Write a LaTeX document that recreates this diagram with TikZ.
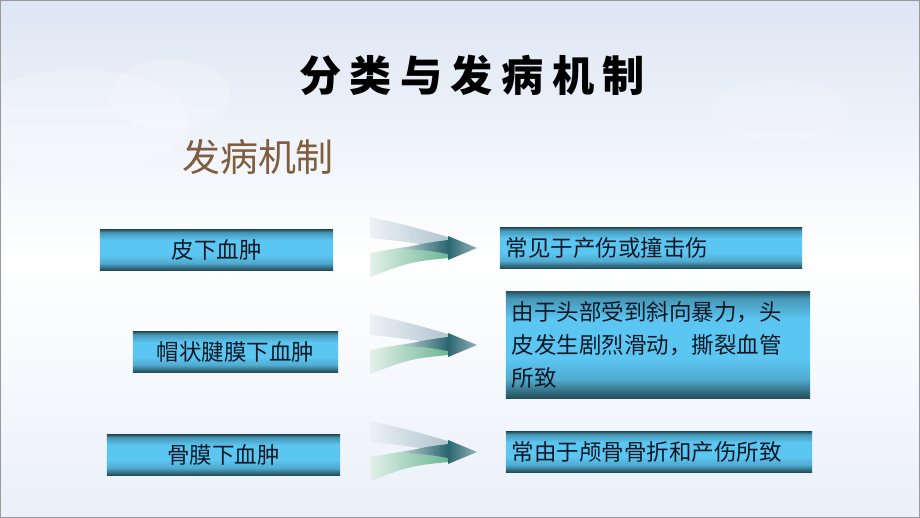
\documentclass[tikz,border=0pt]{standalone}
\usepackage{fontspec}
\setmainfont{Noto Sans CJK SC}
\newfontfamily\titlefont[LetterSpace=20]{Noto Sans CJK SC}
\definecolor{boxdark}{HTML}{2B5C6C}
\definecolor{boxlight}{HTML}{5CC6F2}
\definecolor{boxtext}{HTML}{0C1824}
\definecolor{subbrown}{HTML}{7E5E3E}
\definecolor{skyblue}{HTML}{DDE6F4}
\definecolor{fanblue}{HTML}{A9BFCC}
\definecolor{fangreen}{HTML}{5DAF86}
\definecolor{fanteal}{HTML}{2A6670}
\pgfdeclareverticalshading{boxshade}{100bp}{color(0bp)=(boxdark!85!black); color(25bp)=(boxdark!85!black);
  color(34bp)=(boxlight!75!boxdark); color(44bp)=(boxlight); color(62bp)=(boxlight);
  color(72bp)=(boxlight!55!boxdark); color(75bp)=(boxdark); color(100bp)=(boxdark)}

\begin{document}
\begin{tikzpicture}[x=0.025cm, y=-0.025cm,
  every node/.style={outer sep=0pt},
  lbox/.style={minimum height=1cm, inner sep=0pt, text=boxtext,
    shading=boxshade, font=\fontsize{16}{18}\selectfont},
  rbox/.style={lbox, align=left, inner xsep=0.15cm},
  arrowfan/.pic={
    \shade[left color=fanblue!22, right color=fanblue, fill opacity=0.9]
      (0,-31) .. controls (40,-22) .. (78,-11) -- (78,2) .. controls (40,-6) .. (0,-10) -- cycle;
    \shade[left color=fangreen!18, right color=fangreen, fill opacity=0.9]
      (0,5) .. controls (40,-2) .. (78,-6) -- (78,10) .. controls (40,14) .. (0,29) -- cycle;
    \shade[left color=fanteal!30, right color=fanteal]
      (30,1) .. controls (55,-5) .. (78,-8) -- (78,6) .. controls (55,2) .. cycle;
    \shade[left color=fanteal, right color=fanteal!50]
      (78,-12) -- (107,0) -- (78,12) -- cycle;
  }]
\useasboundingbox (0,0) rectangle (920,518);

% slide background
\shade[top color=skyblue, bottom color=skyblue!60, middle color=white] (0,0) rectangle (920,518);
\fill[white, opacity=0.2] (80,120) ellipse (110 and 50);
\fill[white, opacity=0.2] (170,95) ellipse (60 and 35);
\fill[white, opacity=0.15] (780,110) ellipse (70 and 30);
\draw[gray!80, line width=0.75pt] (0.5,0.5) rectangle (919.5,517.5);

% titles
\node (title) at (472,75) {\titlefont\bfseries\fontsize{30}{34}\selectfont 分类与发病机制};
\node[text=subbrown] (sub) at (258,157) {\fontsize{27}{30}\selectfont 发病机制};

% left boxes
\node[lbox, minimum width=5.825cm] (pixia) at (216.5,250) {皮下血肿};
\node[lbox, minimum width=5.125cm] (maozhuang) at (235.5,352) {帽状腱膜下血肿};
\node[lbox, minimum width=5.825cm] (gumo) at (223.5,455) {骨膜下血肿};

% arrows
\pic at (370,248) {arrowfan};
\pic at (370,345) {arrowfan};
\pic at (370,452) {arrowfan};

% right boxes
\node[rbox, text width=7.25cm] (chanshang) at (651,248) {常见于产伤或撞击伤};
\node[rbox, text width=7.3cm, minimum height=2.65cm, font=\fontsize{16}{23.5}\selectfont] (baoli) at (658,345)
  {由于头部受到斜向暴力，头\\皮发生剧烈滑动，撕裂血管\\所致};
\node[rbox, text width=7.35cm] (guzhe) at (659,452) {常由于颅骨骨折和产伤所致};
\end{tikzpicture}
\end{document}
